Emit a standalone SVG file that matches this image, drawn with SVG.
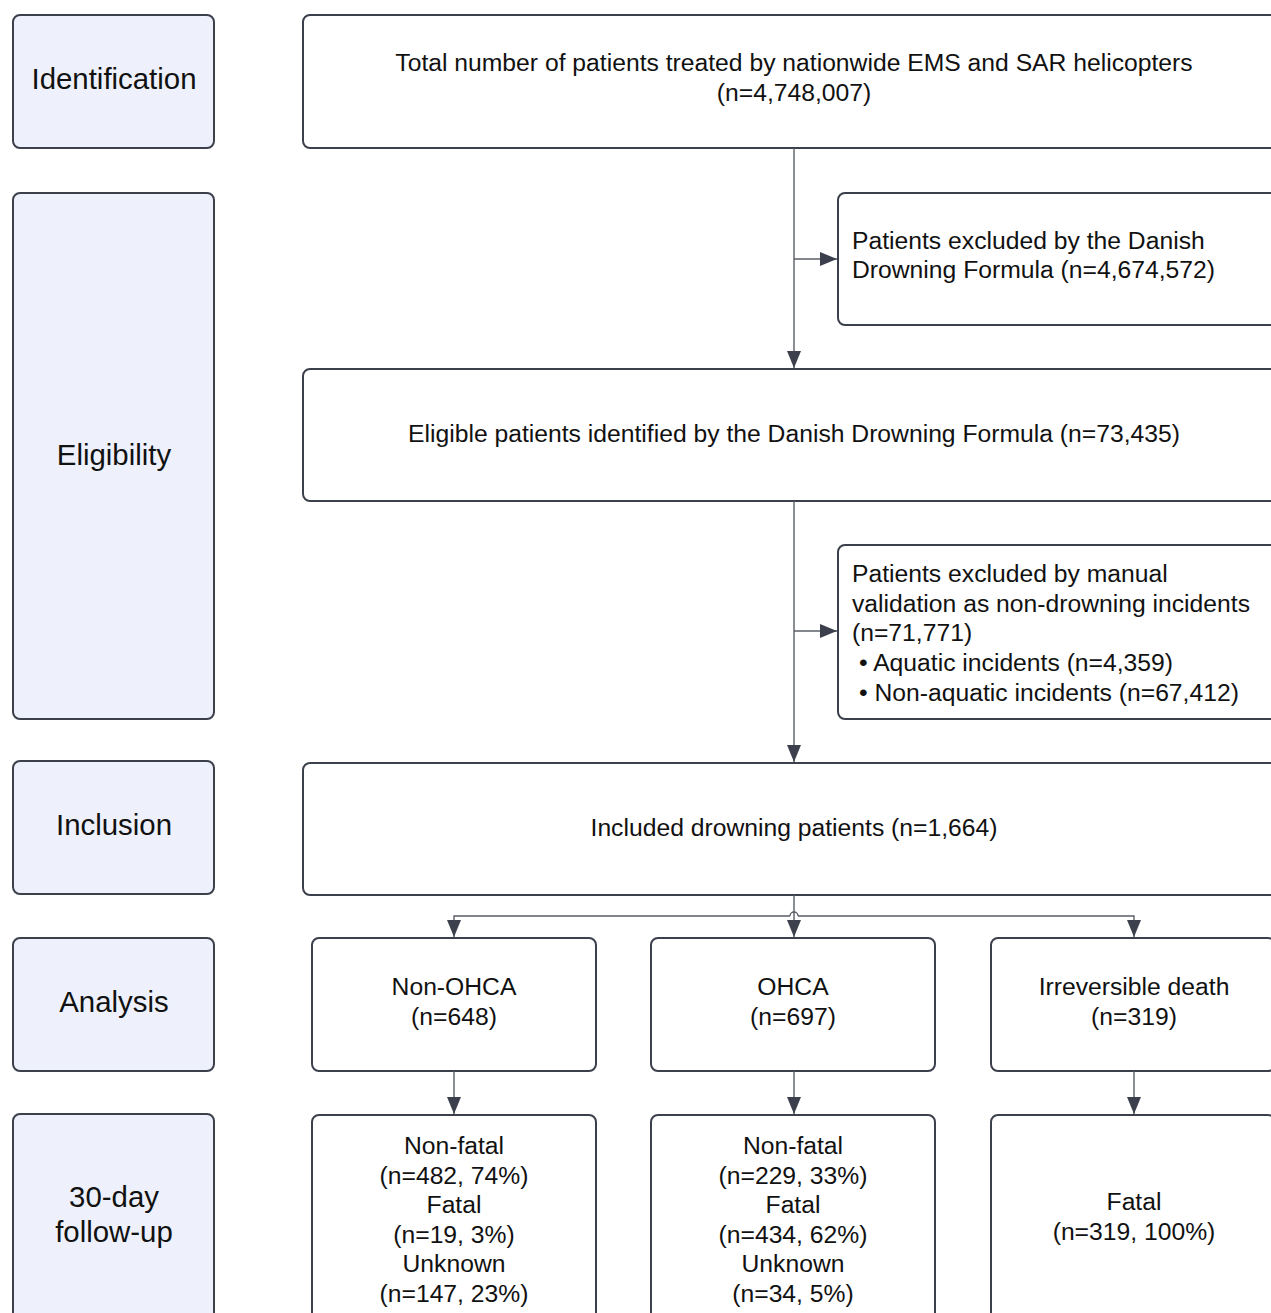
<svg xmlns="http://www.w3.org/2000/svg" width="1271" height="1313" viewBox="0 0 1271 1313">
<style>
.lab{fill:#eef1fb;stroke:#3b404c;stroke-width:2}
.box{fill:#ffffff;stroke:#3b404c;stroke-width:2}
.lt{font-family:"Liberation Sans",Arial,sans-serif;font-size:29.4px;fill:#111;text-anchor:middle}
.t{font-family:"Liberation Sans",Arial,sans-serif;font-size:24.7px;fill:#111}
.c{text-anchor:middle}
.con{fill:none;stroke:#5a5e66;stroke-width:1.4}
</style>
<defs>
<marker id="ah" markerUnits="userSpaceOnUse" markerWidth="18" markerHeight="14" viewBox="0 0 18 14" refX="17" refY="7" orient="auto">
<path d="M0,0 L17,7 L0,14 Z" fill="#3b404c"/>
</marker>
</defs>
<rect width="1271" height="1313" fill="#ffffff"/>

<g id="label-identification"><rect class="lab" x="13" y="15" width="201" height="133" rx="7"/><text class="lt" x="114" y="89">Identification</text></g>
<g id="label-eligibility"><rect class="lab" x="13" y="193" width="201" height="526" rx="7"/><text class="lt" x="114" y="465">Eligibility</text></g>
<g id="label-inclusion"><rect class="lab" x="13" y="761" width="201" height="133" rx="7"/><text class="lt" x="114" y="835">Inclusion</text></g>
<g id="label-analysis"><rect class="lab" x="13" y="938" width="201" height="133" rx="7"/><text class="lt" x="114" y="1012">Analysis</text></g>
<g id="label-followup"><rect class="lab" x="13" y="1114" width="201" height="230" rx="7"/><text class="lt" x="114" y="1207">30-day</text><text class="lt" x="114" y="1242">follow-up</text></g>

<g id="total"><rect class="box" x="303" y="15" width="990" height="133" rx="7"/>
<text class="t c" x="794" y="71">Total number of patients treated by nationwide EMS and SAR helicopters</text>
<text class="t c" x="794" y="101">(n=4,748,007)</text></g>

<g id="excluded1"><rect class="box" x="838" y="193" width="455" height="132" rx="7"/>
<text class="t" x="852" y="249">Patients excluded by the Danish</text>
<text class="t" x="852" y="278">Drowning Formula (n=4,674,572)</text></g>

<g id="eligible"><rect class="box" x="303" y="369" width="990" height="132" rx="7"/>
<text class="t c" x="794" y="442">Eligible patients identified by the Danish Drowning Formula (n=73,435)</text></g>

<g id="excluded2"><rect class="box" x="838" y="545" width="455" height="174" rx="7"/>
<text class="t" x="852" y="582">Patients excluded by manual</text>
<text class="t" x="852" y="612">validation as non-drowning incidents</text>
<text class="t" x="852" y="641">(n=71,771)</text>
<text class="t" x="859" y="671">• Aquatic incidents (n=4,359)</text>
<text class="t" x="859" y="701">• Non-aquatic incidents (n=67,412)</text></g>

<g id="included"><rect class="box" x="303" y="763" width="990" height="132" rx="7"/>
<text class="t c" x="794" y="836">Included drowning patients (n=1,664)</text></g>

<g id="non-ohca"><rect class="box" x="312" y="938" width="284" height="133" rx="7"/>
<text class="t c" x="454" y="995">Non-OHCA</text><text class="t c" x="454" y="1025">(n=648)</text></g>
<g id="ohca"><rect class="box" x="651" y="938" width="284" height="133" rx="7"/>
<text class="t c" x="793" y="995">OHCA</text><text class="t c" x="793" y="1025">(n=697)</text></g>
<g id="irreversible"><rect class="box" x="991" y="938" width="284" height="133" rx="7"/>
<text class="t c" x="1134" y="995">Irreversible death</text><text class="t c" x="1134" y="1025">(n=319)</text></g>

<g id="fu-non-ohca"><rect class="box" x="312" y="1115" width="284" height="230" rx="7"/>
<text class="t c" x="454" y="1154">Non-fatal</text><text class="t c" x="454" y="1184">(n=482, 74%)</text>
<text class="t c" x="454" y="1213">Fatal</text><text class="t c" x="454" y="1243">(n=19, 3%)</text>
<text class="t c" x="454" y="1272">Unknown</text><text class="t c" x="454" y="1302">(n=147, 23%)</text></g>
<g id="fu-ohca"><rect class="box" x="651" y="1115" width="284" height="230" rx="7"/>
<text class="t c" x="793" y="1154">Non-fatal</text><text class="t c" x="793" y="1184">(n=229, 33%)</text>
<text class="t c" x="793" y="1213">Fatal</text><text class="t c" x="793" y="1243">(n=434, 62%)</text>
<text class="t c" x="793" y="1272">Unknown</text><text class="t c" x="793" y="1302">(n=34, 5%)</text></g>
<g id="fu-irreversible"><rect class="box" x="991" y="1115" width="284" height="230" rx="7"/>
<text class="t c" x="1134" y="1210">Fatal</text><text class="t c" x="1134" y="1240">(n=319, 100%)</text></g>

<g id="connectors">
<path class="con" d="M794,148 V368" marker-end="url(#ah)"/>
<path class="con" d="M794,259 H837" marker-end="url(#ah)"/>
<path class="con" d="M794,501 V762" marker-end="url(#ah)"/>
<path class="con" d="M794,631 H837" marker-end="url(#ah)"/>
<path class="con" d="M794,895 V937" marker-end="url(#ah)"/>
<path class="con" d="M790,916 H454 V937" marker-end="url(#ah)"/>
<path class="con" d="M798,916 H1134 V937" marker-end="url(#ah)"/>
<path class="con" d="M790,916 A4,4 0 0 1 798,916"/>
<path class="con" d="M454,1071 V1114" marker-end="url(#ah)"/>
<path class="con" d="M794,1071 V1114" marker-end="url(#ah)"/>
<path class="con" d="M1134,1071 V1114" marker-end="url(#ah)"/>
</g>
</svg>
